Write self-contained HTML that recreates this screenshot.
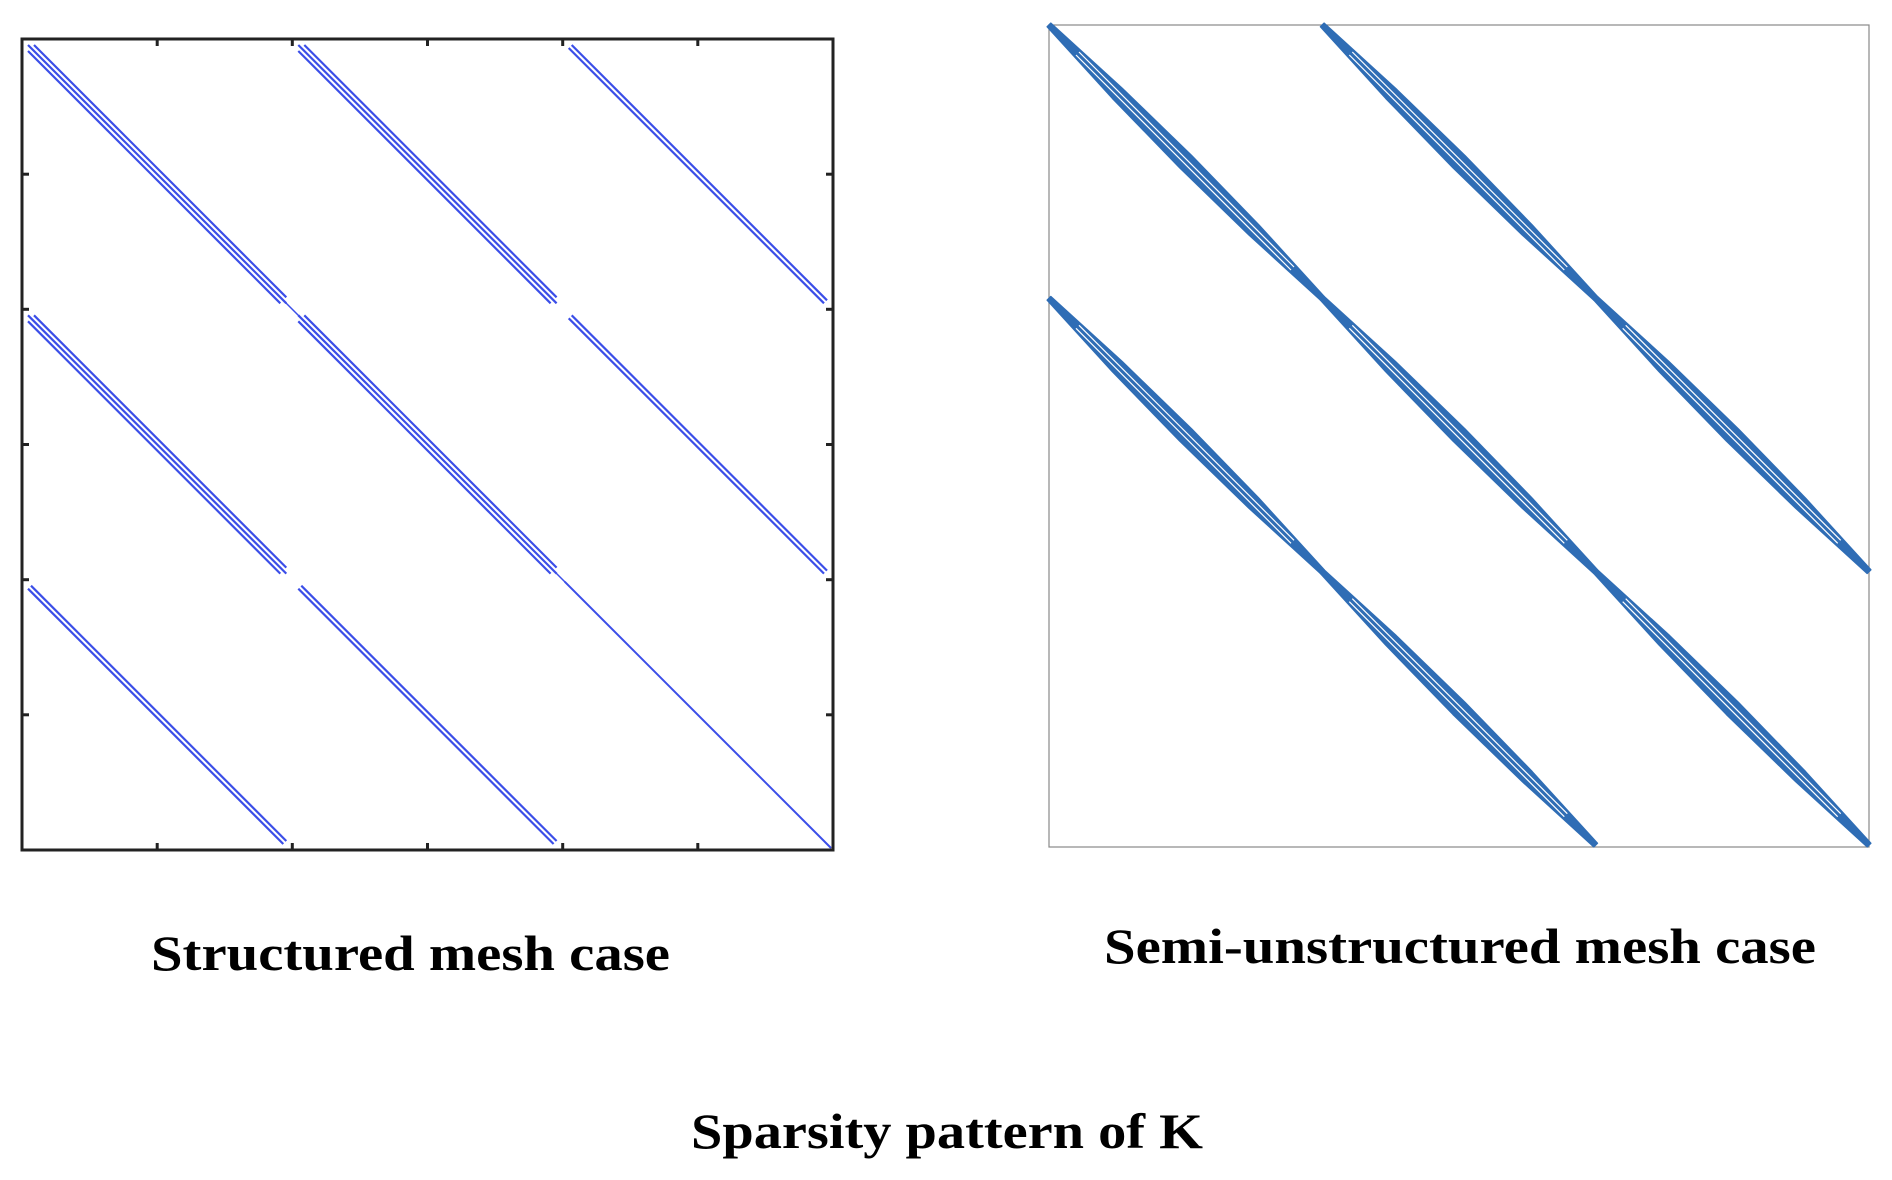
<!DOCTYPE html>
<html><head><meta charset="utf-8"><style>
html,body{margin:0;padding:0;background:#fff;}
svg{display:block;}
</style></head><body>
<svg width="1892" height="1180" viewBox="0 0 1892 1180" xmlns="http://www.w3.org/2000/svg">
<defs>
<g id="T" stroke="#3b4ee8" stroke-width="2.2" fill="none">
<line x1="12" y1="6" x2="264.3" y2="258.3"/>
<line x1="6" y1="6" x2="264.3" y2="264.3"/>
<line x1="6" y1="12" x2="258.3" y2="264.3"/>
</g>
<g id="D" stroke="#3b4ee8" stroke-width="2.2" fill="none">
<line x1="9" y1="6" x2="264.3" y2="261.3"/>
<line x1="6" y1="9" x2="261.3" y2="264.3"/>
</g>
<g id="S" stroke="#3b4ee8" stroke-width="2" fill="none">
<line x1="2" y1="2" x2="268.3" y2="268.3"/>
</g>
<g id="P">
<polygon points="1.8,-1.8 73.3,63.4 142.7,130.7 209.9,200 275.1,271.5 271.5,275.1 200,209.9 130.7,142.7 63.4,73.3 -1.8,1.8" fill="#2f6db5" stroke="#2f6db5" stroke-width="1.5" stroke-linejoin="round"/>
<line x1="30" y1="27" x2="245" y2="242" stroke="#fff" stroke-width="1.2"/>
<line x1="27" y1="30" x2="242" y2="245" stroke="#fff" stroke-width="1.2"/>
</g>
</defs>

<use href="#T" x="22" y="39"/>
<use href="#T" x="292.3" y="39"/>
<use href="#D" x="562.7" y="39"/>
<use href="#T" x="22" y="309.3"/>
<use href="#T" x="292.3" y="309.3"/>
<use href="#D" x="562.7" y="309.3"/>
<use href="#D" x="22" y="579.7"/>
<use href="#D" x="292.3" y="579.7"/>
<use href="#S" x="562.7" y="579.7"/>
<line x1="280" y1="297" x2="304" y2="321" stroke="#3b4ee8" stroke-width="1.5"/>
<line x1="550" y1="567" x2="574" y2="591" stroke="#3b4ee8" stroke-width="1.5"/>
<rect x="22" y="39" width="811" height="811" fill="none" stroke="#222" stroke-width="3"/>
<g stroke="#222" stroke-width="3">
<line x1="157.2" y1="39" x2="157.2" y2="46"/><line x1="292.3" y1="39" x2="292.3" y2="46"/><line x1="427.5" y1="39" x2="427.5" y2="46"/><line x1="562.7" y1="39" x2="562.7" y2="46"/><line x1="697.8" y1="39" x2="697.8" y2="46"/>
<line x1="157.2" y1="850" x2="157.2" y2="843"/><line x1="292.3" y1="850" x2="292.3" y2="843"/><line x1="427.5" y1="850" x2="427.5" y2="843"/><line x1="562.7" y1="850" x2="562.7" y2="843"/><line x1="697.8" y1="850" x2="697.8" y2="843"/>
<line x1="22" y1="174.2" x2="29" y2="174.2"/><line x1="22" y1="309.3" x2="29" y2="309.3"/><line x1="22" y1="444.5" x2="29" y2="444.5"/><line x1="22" y1="579.7" x2="29" y2="579.7"/><line x1="22" y1="714.8" x2="29" y2="714.8"/>
<line x1="833" y1="174.2" x2="826" y2="174.2"/><line x1="833" y1="309.3" x2="826" y2="309.3"/><line x1="833" y1="444.5" x2="826" y2="444.5"/><line x1="833" y1="579.7" x2="826" y2="579.7"/><line x1="833" y1="714.8" x2="826" y2="714.8"/>
</g>

<rect x="1049" y="25" width="820" height="822" fill="none" stroke="#888" stroke-width="1.2"/>
<use href="#P" x="1049" y="25"/>
<use href="#P" x="1322.3" y="25"/>
<use href="#P" x="1049" y="298.3"/>
<use href="#P" x="1322.3" y="298.3"/>
<use href="#P" x="1595.7" y="298.3"/>
<use href="#P" x="1322.3" y="571.7"/>
<use href="#P" x="1595.7" y="571.7"/>

<g font-family="'Liberation Serif', serif" font-weight="bold" font-size="50" fill="#000">
<text x="151" y="970" textLength="519" lengthAdjust="spacingAndGlyphs">Structured mesh case</text>
<text x="1104" y="963" textLength="712" lengthAdjust="spacingAndGlyphs">Semi-unstructured mesh case</text>
<text x="691" y="1148" textLength="512" lengthAdjust="spacingAndGlyphs">Sparsity pattern of K</text>
</g>
</svg>
</body></html>
